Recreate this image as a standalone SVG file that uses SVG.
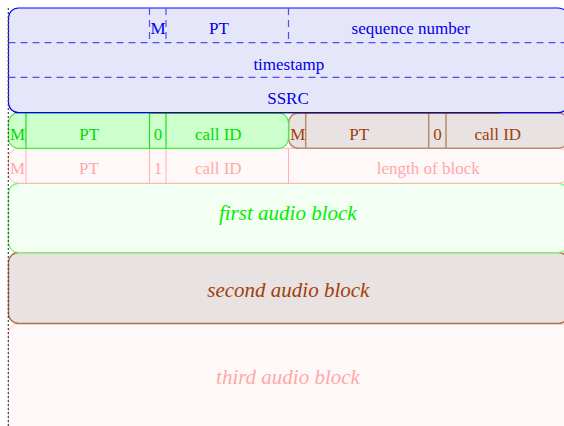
<svg xmlns="http://www.w3.org/2000/svg" width="564" height="426" viewBox="0 0 564 426">
<style>
text{font-family:"Liberation Serif","Times New Roman",serif;font-size:17px;text-anchor:middle}
.blk{font-size:21px;font-style:italic}
.hdr{fill:#e6e6fa;stroke:#0000ff;stroke-width:1.2}
.hdash{stroke:#5050ee;stroke-width:1.2;stroke-dasharray:7 5;fill:none}
.ht{fill:#0000e6}
.grn{fill:#ccffcc;stroke:#44ee44;stroke-width:1.2}
.gl{stroke:#22dd22;stroke-width:1.2}
.gt{fill:#00dd00}
.brn{fill:#e8e2e2;stroke:#c08a66;stroke-width:1.5}
.bl{stroke:#c08a66;stroke-width:1.5}
.bt{fill:#a0400a}
.pnk{fill:#fff8f8;stroke:#ffb4b4;stroke-width:1}
.pl{stroke:#ffb0b0;stroke-width:1}
.pt{fill:#ffa8a8}
.b1{fill:#f2fff2;stroke:#66ff66;stroke-width:1.2}
.b1t{fill:#00ee00}
.b2{fill:#e8e2e2;stroke:#b0703f;stroke-width:1.3}
.b3{fill:#fff8f8;stroke:#ffc4c4;stroke-width:1}
</style>
<g id="third-block">
<rect class="b3" x="8.5" y="323.5" width="560" height="110" rx="10"/>
<text class="blk pt" x="288" y="384">third audio block</text>
</g>
<g id="second-block">
<rect class="b2" x="8.5" y="252.5" width="560" height="71" rx="10"/>
<text class="blk bt" x="288.3" y="297">second audio block</text>
</g>
<g id="first-block">
<rect class="b1" x="8.5" y="183.3" width="560" height="69.2" rx="10"/>
<text class="blk b1t" x="287.8" y="219.5">first audio block</text>
</g>
<g id="pink-row">
<rect class="pnk" x="8.5" y="148.3" width="560" height="35" rx="10"/>
<line class="pl" x1="26" y1="148.3" x2="26" y2="183.3"/>
<line class="pl" x1="149.5" y1="148.3" x2="149.5" y2="183.3"/>
<line class="pl" x1="166" y1="148.3" x2="166" y2="183.3"/>
<line class="pl" x1="288.5" y1="148.3" x2="288.5" y2="183.3"/>
<text class="pt" x="17.5" y="174">M</text>
<text class="pt" x="89" y="174">PT</text>
<text class="pt" x="158" y="174">1</text>
<text class="pt" x="218.3" y="174">call ID</text>
<text class="pt" x="428.3" y="174">length of block</text>
</g>
<g id="brown-row">
<rect class="brn" x="288.5" y="113" width="280" height="35.3" rx="10"/>
<line class="bl" x1="305.7" y1="113" x2="305.7" y2="148.3"/>
<line class="bl" x1="428.7" y1="113" x2="428.7" y2="148.3"/>
<line class="bl" x1="446" y1="113" x2="446" y2="148.3"/>
<text class="bt" x="297.8" y="140">M</text>
<text class="bt" x="359.2" y="140">PT</text>
<text class="bt" x="437.5" y="140">0</text>
<text class="bt" x="497.8" y="140">call ID</text>
</g>
<g id="green-row">
<rect class="grn" x="8.5" y="113" width="280" height="35.3" rx="10"/>
<line class="gl" x1="26" y1="113" x2="26" y2="148.3"/>
<line class="gl" x1="149.5" y1="113" x2="149.5" y2="148.3"/>
<line class="gl" x1="166" y1="113" x2="166" y2="148.3"/>
<text class="gt" x="17.5" y="140">M</text>
<text class="gt" x="89.2" y="140">PT</text>
<text class="gt" x="158" y="140">0</text>
<text class="gt" x="218.3" y="140">call ID</text>
</g>
<g id="header">
<rect class="hdr" x="8.5" y="8" width="560" height="104.7" rx="10"/>
<line class="hdash" x1="8.5" y1="42.7" x2="568.5" y2="42.7"/>
<line class="hdash" x1="8.5" y1="77.3" x2="568.5" y2="77.3"/>
<line class="hdash" x1="149.5" y1="8" x2="149.5" y2="42.7"/>
<line class="hdash" x1="166" y1="8" x2="166" y2="42.7"/>
<line class="hdash" x1="288.5" y1="8" x2="288.5" y2="42.7"/>
<text class="ht" x="158" y="34">M</text>
<text class="ht" x="219" y="34">PT</text>
<text class="ht" x="410.8" y="34">sequence number</text>
<text class="ht" x="288.8" y="69.5">timestamp</text>
<text class="ht" x="288" y="104">SSRC</text>
</g>
<g id="connectors">
<line x1="150" y1="112.8" x2="500" y2="112.8" stroke="#222" stroke-width="1"/>
<line x1="8.3" y1="8" x2="8.3" y2="426" stroke="#444" stroke-width="1.2" stroke-dasharray="2 2"/>
</g>
</svg>
